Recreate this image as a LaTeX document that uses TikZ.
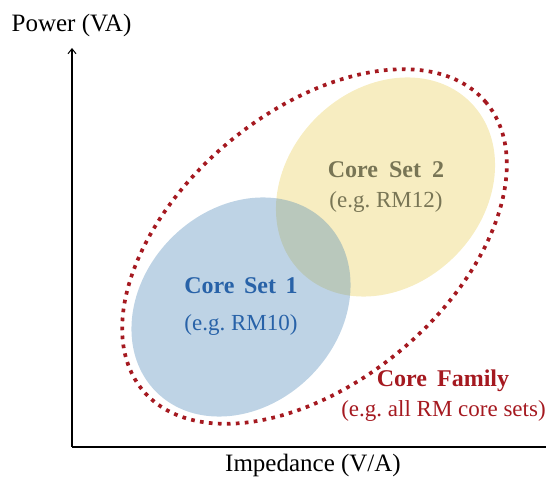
\documentclass[tikz,border=0pt]{standalone}
\usepackage{fontspec}
\setmainfont{Liberation Serif}
\usetikzlibrary{arrows.meta}
\definecolor{setblue}{RGB}{70,130,180}
\definecolor{setyellow}{RGB}{235,210,100}
\definecolor{bluetext}{RGB}{40,98,168}
\definecolor{yellowtext}{RGB}{120,117,85}
\definecolor{familyred}{RGB}{165,25,32}
\tikzset{
  axisline/.style={line width=1.2pt},
  lbl/.style={anchor=base, inner sep=0pt},
  axislbl/.style={lbl, font=\fontsize{25}{30}\selectfont},
  boldlbl/.style={lbl, font=\fontsize{24}{29}\selectfont\bfseries},
  eglbl/.style={lbl, font=\fontsize{23}{28}\selectfont},
}
\begin{document}
\frenchspacing
\begin{tikzpicture}[x=1pt,y=1pt,font=\fontsize{24}{29}\selectfont]
\useasboundingbox (0,0) rectangle (547,477);
% axes
\coordinate (O) at (72,30);
\coordinate (ytop) at (72,429);
\coordinate (xend) at (546,30);
\draw[axisline] (O) -- (xend);
\draw[axisline,-{Straight Barb[length=5pt,width=8pt,line width=1pt]}] (O) -- (ytop);
\node[axislbl] (ylab) at (71.5,445) {Power (VA)};
\node[axislbl] (xlab) at (313,5.5) {Impedance (V/A)};
% sets
\fill[setyellow, fill opacity=0.4] (385.5,290) ellipse[x radius=120pt, y radius=98pt, rotate=45];
\fill[setblue, fill opacity=0.35] (241,170) ellipse[x radius=120pt, y radius=98pt, rotate=45];
\draw[familyred, line width=3.7pt, dash pattern=on 3.7pt off 5.3pt] (314.5,230.5) ellipse[x radius=224pt, y radius=135pt, rotate=40];
% labels
\node[boldlbl, text=yellowtext] (s2) at (386,299) {Core\hspace{11pt}Set\hspace{11pt}2};
\node[eglbl, text=yellowtext] (s2e) at (386,269) {(e.g. RM12)};
\node[boldlbl, text=bluetext] (s1) at (241,183) {Core\hspace{9.5pt}Set\hspace{9.5pt}1};
\node[eglbl, text=bluetext] (s1e) at (241,146) {(e.g. RM10)};
\node[boldlbl, text=familyred] (fam) at (443,90) {Core\hspace{10pt}Family};
\node[eglbl, text=familyred] (fame) at (443.5,60) {(e.g. all RM core sets)};
\end{tikzpicture}
\end{document}
